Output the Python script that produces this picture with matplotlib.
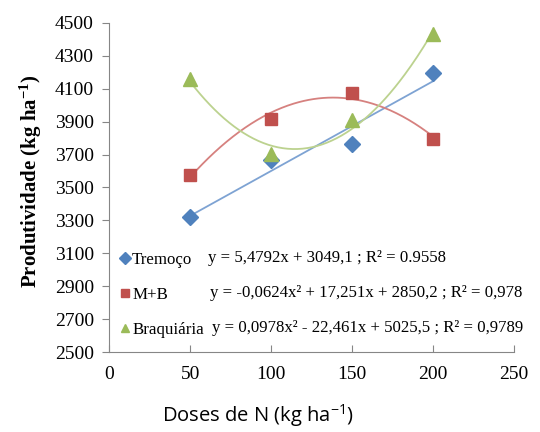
import numpy as np
import matplotlib
matplotlib.use("Agg")
from matplotlib import pyplot as plt
from matplotlib.lines import Line2D

# doses of N (kg/ha)
doses = [50, 100, 150, 200]

# yields
tremoco = [3320, 3665, 3767, 4195]
mb = [3575, 3918, 4075, 3797]
braquiaria = [4160, 3702, 3909, 4432]

names = ["Tremoço", "M+B", "Braquiária"]
equations = [
    "y = 5,4792x + 3049,1 ; R² = 0.9558",
    "y = -0,0624x² + 17,251x + 2850,2 ; R² = 0,978",
    "y = 0,0978x² - 22,461x + 5025,5 ; R² = 0,9789",
]

x_ticks = [0, 50, 100, 150, 200, 250]
y_ticks = list(range(2500, 4501, 200))

colors = ["#4F81BD", "#C0504D", "#9BBB59"]
line_colors = ["#7EA3D3", "#D6817F", "#BCD28F"]
markers = ["D", "s", "^"]
msizes = [8, 9, 10]
degrees = [1, 2, 2]

plt.rcParams["font.family"] = ["Liberation Serif", "DejaVu Serif"]
plt.rcParams["mathtext.fontset"] = "custom"
plt.rcParams["mathtext.rm"] = "Liberation Serif"
plt.rcParams["mathtext.it"] = "Liberation Serif:italic"
plt.rcParams["mathtext.bf"] = "Liberation Serif:bold"
plt.rcParams["mathtext.sf"] = "Open Sans"

fig = plt.figure(figsize=(5.4, 4.32), dpi=100)
ax = fig.add_axes([0.202, 0.185, 0.75, 0.762])

series = [tremoco, mb, braquiaria]
xs = np.linspace(50, 200, 200)
handles = []
for vals, c, lc, m, ms, deg in zip(series, colors, line_colors, markers, msizes, degrees):
    coef = np.polyfit(doses, vals, deg)
    ax.plot(xs, np.polyval(coef, xs), color=lc, lw=1.3, zorder=2)
    ax.plot(doses, vals, linestyle="none", marker=m, ms=ms, color=c,
            markeredgecolor=c, zorder=3)
    handles.append(Line2D([], [], linestyle="none", marker=m, ms=6, color=c))

leg = ax.legend(handles, names, loc="lower left", bbox_to_anchor=(-0.01, 0.006),
                frameon=False, fontsize=12.2, handletextpad=0.0,
                handlelength=0.9, labelspacing=1.12, borderpad=0.2)

eq_pos = [(0.245, 0.285), (0.25, 0.179), (0.254, 0.073)]
for (ex, ey), eq in zip(eq_pos, equations):
    ax.text(ex, ey, eq, transform=ax.transAxes, fontsize=12.1,
            va="center", ha="left", clip_on=False)

ax.set_xlim(0, 250)
ax.set_ylim(2500, 4500)
ax.set_xticks(x_ticks)
ax.set_yticks(y_ticks)
ax.tick_params(axis="both", labelsize=14, color="#868686", length=5)
ax.tick_params(axis="x", direction="in", pad=10)
ax.tick_params(axis="y", direction="out", pad=6)
for s in ["top", "right"]:
    ax.spines[s].set_visible(False)
for s in ["left", "bottom"]:
    ax.spines[s].set_color("#868686")

ax.set_ylabel(r"Produtividade (kg ha$^{\mathbf{-1}}$)", fontsize=15,
              fontweight="bold")
ax.yaxis.set_label_coords(-0.16, 0.52)
ax.set_xlabel(r"Doses de N (kg ha$^{\mathsf{-1}}$)", fontsize=14.5,
              family="Open Sans")
ax.xaxis.set_label_coords(0.368, -0.155)

fig.savefig("out.png", dpi=100)
